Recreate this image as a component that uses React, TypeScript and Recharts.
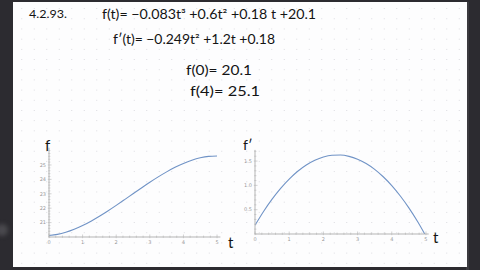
import React from 'react';
import { LineChart, Line, XAxis, YAxis } from 'recharts';

const tValues = [0, 0.25, 0.5, 0.75, 1, 1.25, 1.5, 1.75, 2, 2.25, 2.5, 2.75, 3, 3.25, 3.5, 3.75, 4, 4.25, 4.5, 4.75, 5];
const fValues = [20.1, 20.181, 20.33, 20.537, 20.797, 21.1, 21.44, 21.808, 22.196, 22.597, 23.003, 23.406, 23.799, 24.173, 24.521, 24.836, 25.108, 25.331, 25.497, 25.597, 25.625];
const fpValues = [0.18, 0.464, 0.718, 0.94, 1.131, 1.291, 1.42, 1.517, 1.584, 1.619, 1.624, 1.597, 1.539, 1.45, 1.33, 1.178, 0.996, 0.782, 0.538, 0.262, -0.045];

const leftXLabels = ['0', '1', '2', '3', '4', '5'];
const leftYLabels = ['21', '22', '23', '24', '25'];
const rightXLabels = ['0', '1', '2', '3', '4', '5'];
const rightYLabels = ['0.5', '1.0', '1.5'];

const minorTicks = (from: number, to: number, step: number) => {
  const out: number[] = [];
  const n = Math.round((to - from) / step);
  for (let i = 0; i <= n; i++) out.push(Math.round((from + i * step) * 1000) / 1000);
  return out;
};

const fData = tValues.map((t, i) => ({ t, v: fValues[i] }));
const fpData = tValues.map((t, i) => ({ t, v: fpValues[i] }));

const AXIS = '#b5b5b5';
const LABEL = '#9a9a9a';
const LINE = '#7093c6';

const makeXTick = (labels: string[]) => (props: any) => {
  const { x, y, payload } = props;
  const v = payload.value as number;
  const label = labels.find((l) => Math.abs(parseFloat(l) - v) < 1e-6);
  const major = label !== undefined;
  return (
    <g>
      <line x1={x} x2={x} y1={y - (major ? 2.5 : 1.4)} y2={y + (major ? 1.2 : 0.8)} stroke={AXIS} strokeWidth={0.6} />
      {major && (
        <text x={x} y={y + 7} textAnchor="middle" fontSize={5} fill={LABEL} fontFamily="DejaVu Sans">
          {label}
        </text>
      )}
    </g>
  );
};

const makeYTick = (labels: string[]) => (props: any) => {
  const { x, y, payload } = props;
  const v = payload.value as number;
  const label = labels.find((l) => Math.abs(parseFloat(l) - v) < 1e-6);
  const major = label !== undefined;
  return (
    <g>
      <line x1={x - (major ? 1.2 : 0.8)} x2={x + (major ? 2.5 : 1.4)} y1={y} y2={y} stroke={AXIS} strokeWidth={0.6} />
      {major && (
        <text x={x - 3} y={y + 1.8} textAnchor="end" fontSize={5} fill={LABEL} fontFamily="DejaVu Sans">
          {label}
        </text>
      )}
    </g>
  );
};

const abs: React.CSSProperties = { position: 'absolute', left: 0, top: 0 };

export default function App() {
  return (
    <div style={{ position: 'absolute', left: 0, top: 0, width: 480, height: 270, background: '#2c2b30', overflow: 'hidden' }}>
      <div style={{ position: 'absolute', left: 466, top: 2, width: 3, height: 268, background: '#3b3a3f' }} />
      <div style={{ position: 'absolute', left: -4, top: 224, width: 12, height: 12, borderRadius: 6, background: '#4a494e', filter: 'blur(2px)' }} />
      <div
        style={{
          position: 'absolute',
          left: 13,
          top: 2,
          width: 454,
          height: 265,
          background: '#fdfdfe',
          backgroundImage: 'radial-gradient(circle, #d9d9de 0.7px, transparent 0.9px)',
          backgroundSize: '12.5px 10.2px',
          backgroundPosition: '2.5px 1.5px',
        }}
      />
      <div style={abs}>
        <LineChart width={480} height={270} data={fData} margin={{ top: 147.7, right: 259.6, bottom: 23, left: 29 }}>
          <XAxis
            dataKey="t"
            type="number"
            domain={[0, 5.1]}
            ticks={minorTicks(0, 5, 0.2)}
            interval={0}
            tick={makeXTick(leftXLabels)}
            tickLine={false}
            tickSize={0}
            tickMargin={0}
            height={10}
            axisLine={{ stroke: AXIS, strokeWidth: 1 }}
            allowDataOverflow
          />
          <YAxis
            type="number"
            domain={[20, 26.2]}
            ticks={minorTicks(20, 26, 0.2)}
            interval={0}
            tick={makeYTick(leftYLabels)}
            tickLine={false}
            tickSize={0}
            tickMargin={0}
            width={20}
            axisLine={{ stroke: AXIS, strokeWidth: 1 }}
            allowDataOverflow
          />
          <Line dataKey="v" type="monotone" stroke={LINE} strokeWidth={1.1} dot={false} isAnimationActive={false} />
        </LineChart>
      </div>
      <div style={abs}>
        <LineChart width={480} height={270} data={fpData} margin={{ top: 149.9, right: 51.3, bottom: 26, left: 235 }}>
          <XAxis
            dataKey="t"
            type="number"
            domain={[0, 5.08]}
            ticks={minorTicks(0, 5, 0.2)}
            interval={0}
            tick={makeXTick(rightXLabels)}
            tickLine={false}
            tickSize={0}
            tickMargin={0}
            height={10}
            axisLine={{ stroke: AXIS, strokeWidth: 1 }}
            allowDataOverflow
          />
          <YAxis
            type="number"
            domain={[0, 1.73]}
            ticks={minorTicks(0, 1.7, 0.1)}
            interval={0}
            tick={makeYTick(rightYLabels)}
            tickLine={false}
            tickSize={0}
            tickMargin={0}
            width={20}
            axisLine={{ stroke: AXIS, strokeWidth: 1 }}
            allowDataOverflow
          />
          <Line dataKey="v" type="monotone" stroke={LINE} strokeWidth={1.1} dot={false} isAnimationActive={false} />
        </LineChart>
      </div>
      <svg width={480} height={270} style={{ ...abs, pointerEvents: 'none' }}>
        <g fontFamily="Lato, 'Noto Sans', sans-serif" fill="#141414">
          <text x={29} y={18} fontSize={11} textLength={38} lengthAdjust="spacingAndGlyphs">4.2.93.</text>
          <text x={102} y={19} fontSize={13} textLength={214} lengthAdjust="spacingAndGlyphs">f(t)= −0.083t³ +0.6t² +0.18 t +20.1</text>
          <text x={113} y={44} fontSize={13} textLength={162} lengthAdjust="spacingAndGlyphs">f′(t)= −0.249t² +1.2t +0.18</text>
          <text x={186} y={75} fontSize={13} textLength={66} lengthAdjust="spacingAndGlyphs">f(0)= 20.1</text>
          <text x={190} y={96} fontSize={14} textLength={70} lengthAdjust="spacingAndGlyphs">f(4)= 25.1</text>
          <text x={45} y={151} fontSize={15}>f</text>
          <text x={228} y={248} fontSize={15}>t</text>
          <text x={243} y={150} fontSize={14}>f′</text>
          <text x={433} y={243} fontSize={15}>t</text>
        </g>
      </svg>
    </div>
  );
}
